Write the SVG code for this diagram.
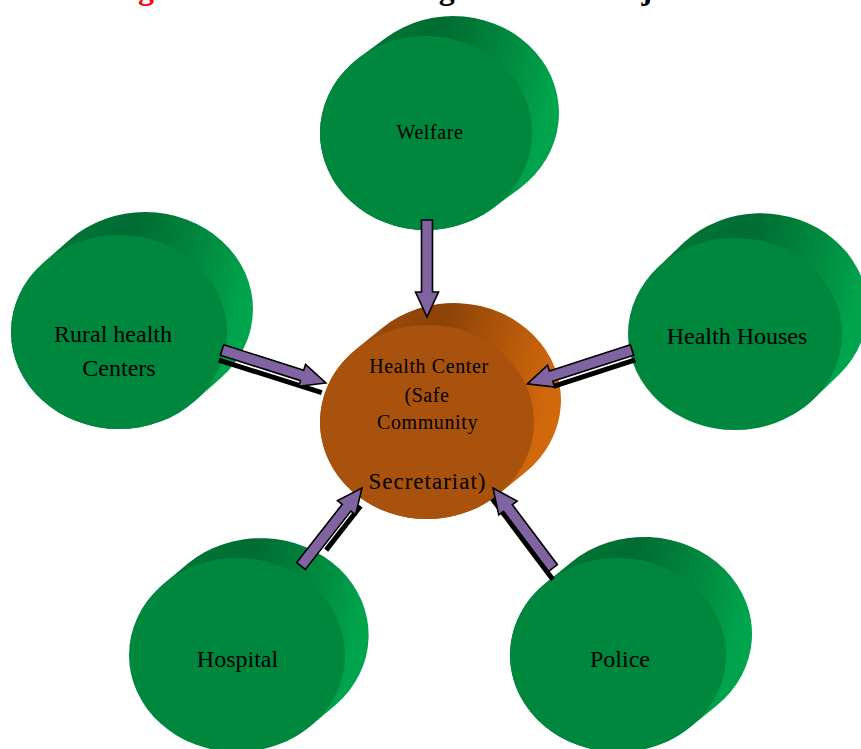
<svg xmlns="http://www.w3.org/2000/svg" width="861" height="749" viewBox="0 0 861 749">
<defs>
<linearGradient id="gG" x1="0" y1="0" x2="1" y2="0.25">
<stop offset="0" stop-color="#007e3b"/>
<stop offset="0.5" stop-color="#006c31"/>
<stop offset="0.8" stop-color="#008c41"/>
<stop offset="1" stop-color="#00a44c"/>
</linearGradient>
<linearGradient id="gO" x1="0" y1="0" x2="1" y2="0.25">
<stop offset="0" stop-color="#a4500c"/>
<stop offset="0.5" stop-color="#8c4308"/>
<stop offset="0.8" stop-color="#b85a0a"/>
<stop offset="1" stop-color="#d2680c"/>
</linearGradient>
</defs>
<style>
.bodyG{fill:url(#gG);}
.faceG{fill:#00873e;}
.bodyO{fill:url(#gO);}
.faceO{fill:#a9520d;}
.lbl{font-family:"Liberation Serif","Times New Roman",serif;fill:#000;text-anchor:middle;}
.s20{font-size:20px;letter-spacing:0.6px;}
.s24{font-size:24px;}
.arrow{fill:#8064a2;stroke:#000;stroke-width:1.6;stroke-linejoin:miter;}
.shadow{stroke:#000;stroke-width:5;fill:none;}
.title{font-family:"Liberation Serif","Times New Roman",serif;font-size:32px;font-weight:bold;fill:#000;}
</style>

<text class="title" x="109.5" y="-1"><tspan fill="#ff0000">Figure 1:</tspan> Data Collecting Sources of Injured Persons</text>

<g id="welfare">
<path class="bodyG" d="M359.3,57.6 L386.3,37.6 A106,97 0 0 1 519.7,188.4 L492.7,208.4 A106,97 0 0 1 359.3,57.6 Z"/>
<ellipse class="faceG" cx="426" cy="133" rx="106" ry="97"/>
<text class="lbl s20" x="430" y="139">Welfare</text>
</g>

<g id="rural">
<path class="bodyG" d="M43.2,262.9 L69.2,239.9 A108,97 0 0 1 220.8,378.1 L194.8,401.1 A108,97 0 0 1 43.2,262.9 Z"/>
<ellipse class="faceG" cx="119" cy="332" rx="108" ry="97"/>
<text class="lbl s24" x="113" y="342">Rural health</text>
<text class="lbl s24" x="119" y="376">Centers</text>
</g>

<g id="houses">
<path class="bodyG" d="M656.8,268.5 L683.8,242.5 A107,96 0 0 1 840.2,373.5 L813.2,399.5 A107,96 0 0 1 656.8,268.5 Z"/>
<ellipse class="faceG" cx="735" cy="334" rx="107" ry="96"/>
<text class="lbl s24" x="737" y="344">Health Houses</text>
</g>

<g id="hospital">
<path class="bodyG" d="M163.2,584.2 L188.2,563.2 A108,97 0 0 1 335.8,704.8 L310.8,725.8 A108,97 0 0 1 163.2,584.2 Z"/>
<ellipse class="faceG" cx="237" cy="655" rx="108" ry="97"/>
<text class="lbl s24" x="237.5" y="667">Hospital</text>
</g>

<g id="police">
<path class="bodyG" d="M545.7,582.9 L571.7,561.9 A108,97 0 0 1 716.3,706.1 L690.3,727.1 A108,97 0 0 1 545.7,582.9 Z"/>
<ellipse class="faceG" cx="618" cy="655" rx="108" ry="97"/>
<text class="lbl s24" x="620" y="667">Police</text>
</g>

<g id="center">
<path class="bodyO" d="M355.5,349.8 L382.5,327.8 A107,97 0 0 1 525.5,472.2 L498.5,494.2 A107,97 0 0 1 355.5,349.8 Z"/>
<ellipse class="faceO" cx="427" cy="422" rx="107" ry="97"/>
<text class="lbl s20" x="429" y="373">Health Center</text>
<text class="lbl s20" x="427" y="402">(Safe</text>
<text class="lbl s20" x="427.5" y="429">Community</text>
<text class="lbl" x="427.5" y="489" style="font-size:23px;letter-spacing:1px">Secretariat)</text>
</g>

<g id="connectors">
<g transform="translate(427,220) rotate(90)">
<polygon class="arrow" points="0,-5.5 72,-5.5 72,-11.5 97,0 72,11.5 72,5.5 0,5.5"/>
</g>
<g transform="translate(222,350) rotate(17.6)">
<line class="shadow" x1="0" y1="10.5" x2="108" y2="10.5"/>
<polygon class="arrow" points="0,-5.5 84,-5.5 84,-11.5 109,0 84,11.5 84,5.5 0,5.5"/>
</g>
<g transform="translate(632,350) rotate(162.1)">
<line class="shadow" x1="0" y1="-10.5" x2="86" y2="-10.5"/>
<polygon class="arrow" points="0,-5.5 85,-5.5 85,-11.5 110,0 85,11.5 85,5.5 0,5.5"/>
</g>
<g transform="translate(301,566) rotate(-52)">
<line class="shadow" x1="28" y1="10" x2="84" y2="10"/>
<polygon class="arrow" points="0,-5.5 74,-5.5 74,-11.5 99,0 74,11.5 74,5.5 0,5.5"/>
</g>
<g transform="translate(553,568) rotate(-126.9)">
<line class="shadow" x1="-9" y1="-7" x2="92" y2="-7"/>
<polygon class="arrow" points="0,-5.5 75,-5.5 75,-11.5 100,0 75,11.5 75,5.5 0,5.5"/>
</g>
</g>
</svg>
